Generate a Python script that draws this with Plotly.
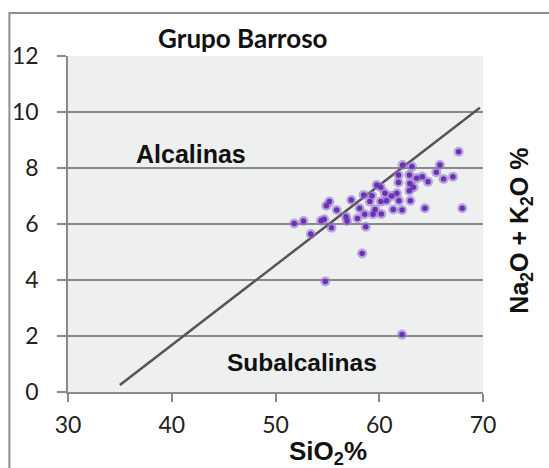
import plotly.graph_objects as go

# Data
sio2 = [51.8, 52.7, 53.4, 54.4, 54.7, 55.4, 54.9, 55.2, 55.9, 56.8, 56.9, 57.3, 57.9, 58.1,
        58.6, 58.7, 58.5, 59.3, 59.1, 59.4, 58.35, 59.6, 54.8, 60.15, 59.75, 60.15, 60.55,
        61.7, 60.7, 61.9, 63.0, 61.2, 61.35, 62.2, 64.4, 68.0, 60.2, 62.25, 63.15, 65.85,
        65.5, 66.2, 67.1, 64.7, 64.15, 63.6, 62.9, 61.85, 61.85, 62.95, 63.3, 62.9, 67.65, 62.2]
na2o_k2o = [6.02, 6.11, 5.64, 6.12, 6.17, 5.87, 6.65, 6.8, 6.5, 6.26, 6.11, 6.86, 6.2, 6.56,
            6.35, 5.9, 7.04, 7.01, 6.8, 6.35, 4.95, 6.52, 3.95, 6.8, 7.39, 7.31, 7.1,
            7.1, 6.83, 6.83, 6.83, 7.0, 6.52, 6.5, 6.56, 6.56, 6.36, 8.11, 8.05, 8.11,
            7.85, 7.61, 7.69, 7.51, 7.69, 7.63, 7.75, 7.75, 7.48, 7.45, 7.31, 7.19, 8.58, 2.05]

boundary_x = [35.0, 69.7]
boundary_y = [0.25, 10.15]

x_ticks = [30, 40, 50, 60, 70]
y_ticks = [0, 2, 4, 6, 8, 10, 12]

title_text = "<b>Grupo Barroso</b>"
label_alk = "<b>Alcalinas</b>"
label_sub = "<b>Subalcalinas</b>"
x_title = "<b>SiO<sub>2</sub>%</b>"
y_title = "<b>Na<sub>2</sub>O + K<sub>2</sub>O %</b>"

W, H = 549, 468
L, R, T, B = 67.7, 483.3, 56.0, 392.0  # plot area in px


def px2paper(px, py):
    return (px - L) / (R - L), (B - py) / (B - T)


fig = go.Figure()

fig.add_trace(go.Scatter(x=boundary_x, y=boundary_y, mode="lines",
                         line=dict(color="#555555", width=2.5),
                         hoverinfo="skip", showlegend=False))

fig.add_trace(go.Scatter(x=sio2, y=na2o_k2o, mode="markers",
                         marker=dict(size=10, color="rgba(150,115,210,0.6)", line=dict(width=0)),
                         hoverinfo="skip", showlegend=False))
fig.add_trace(go.Scatter(x=sio2, y=na2o_k2o, mode="markers",
                         marker=dict(size=5.5, color="#6a32b0", line=dict(width=0)),
                         showlegend=False))

tick_font = dict(family="Lato, sans-serif", size=23, color="#222222")

fig.update_xaxes(range=[30, 70], tickvals=x_ticks, ticktext=[str(v) for v in x_ticks],
                 showgrid=False, zeroline=False, showline=True, linecolor="#8a8a8a",
                 linewidth=1.5, ticks="outside", ticklen=8, tickwidth=1.5, tickcolor="#8a8a8a",
                 tickfont=tick_font, ticklabelstandoff=4, fixedrange=True)
fig.update_yaxes(range=[0, 12], tickvals=y_ticks, ticktext=[str(v) for v in y_ticks],
                 showgrid=True, gridcolor="#8a8a8a", gridwidth=1.5, zeroline=False,
                 showline=True, linecolor="#8a8a8a", linewidth=1.5,
                 ticks="outside", ticklen=9, tickwidth=1.5, tickcolor="#8a8a8a",
                 tickfont=tick_font, ticklabelstandoff=14, fixedrange=True)

ann = []
tx, ty = px2paper(243, 38)
ann.append(dict(text=title_text, x=tx, y=ty, xref="paper", yref="paper",
                xanchor="center", yanchor="middle", showarrow=False,
                font=dict(family="Lato, sans-serif", size=26, color="#111111")))
ann.append(dict(text=label_alk, x=41.9, y=8.5, xref="x", yref="y",
                xanchor="center", yanchor="middle", showarrow=False,
                font=dict(family="Liberation Sans, Arial, sans-serif", size=25, color="#111111")))
ann.append(dict(text=label_sub, x=52.52, y=1.04, xref="x", yref="y",
                xanchor="center", yanchor="middle", showarrow=False,
                font=dict(family="Liberation Sans, Arial, sans-serif", size=24.5, color="#111111")))
sx, sy = px2paper(328, 452)
ann.append(dict(text=x_title, x=sx, y=sy, xref="paper", yref="paper",
                xanchor="center", yanchor="middle", showarrow=False,
                font=dict(family="Liberation Sans, Arial, sans-serif", size=26, color="#111111")))
yx, yy = px2paper(521, 231)
ann.append(dict(text=y_title, x=yx, y=yy, xref="paper", yref="paper", textangle=-90,
                xanchor="center", yanchor="middle", showarrow=False,
                font=dict(family="Liberation Sans, Arial, sans-serif", size=25, color="#111111")))

fx0, fy0 = px2paper(9, 13)
fx1, fy1 = px2paper(620, 520)
fig.add_shape(type="rect", xref="paper", yref="paper", x0=fx0, y0=fy1, x1=fx1, y1=fy0,
              line=dict(color="#8f8f8f", width=2), fillcolor="rgba(0,0,0,0)", layer="below")

fig.update_layout(width=W, height=H, autosize=False,
                  margin=dict(l=L, r=W - R, t=T, b=H - B, pad=0),
                  paper_bgcolor="white", plot_bgcolor="#eeefef",
                  annotations=ann, showlegend=False)

fig.write_html("out.html", config=dict(displayModeBar=False))
